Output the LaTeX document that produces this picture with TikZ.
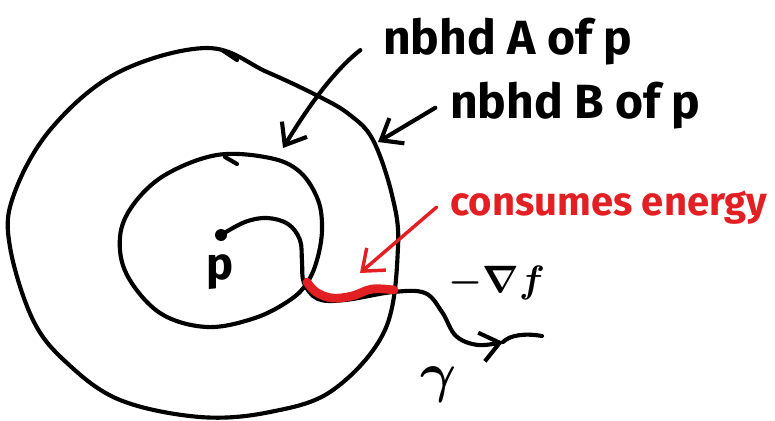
\documentclass[tikz,border=0pt]{standalone}
\usepackage{fontspec}
\setmainfont{Fira Sans}
\usetikzlibrary{arrows.meta}
\definecolor{mred}{RGB}{226,32,36}
\begin{document}
\begin{tikzpicture}[x=0.75pt,y=-0.75pt, line cap=round, line join=round,
  ink/.style={line width=3.1pt, draw=black},
  redink/.style={line width=2.6pt, draw=mred},
  barb/.style={-{Straight Barb[length=14pt,width=22pt]}},
  lab/.style={font=\fontsize{36}{40}\selectfont\bfseries, inner sep=0pt, anchor=base west},
  redlab/.style={font=\fontsize{30}{34}\selectfont\bfseries, text=mred, inner sep=0pt, anchor=base west},
  mathlab/.style={inner sep=0pt, font=\fontsize{20}{24}\selectfont\boldmath}]
\useasboundingbox (0,0) rectangle (775,421);
% outer neighbourhood B
\draw[ink] plot[smooth cycle, tension=0.6] coordinates {(207,48) (267,72) (320,97) (350,115) (373,140) (392,195) (398,247) (385,330) (333,390) (270,412) (200,417) (120,400) (67,363) (33,320) (10,247) (13,197) (50,130) (117,73)};
\draw[ink] (222,50) -- (237,60);
% inner neighbourhood A
\draw[ink] plot[smooth cycle, tension=0.6] coordinates {(217,155) (270,158) (300,172) (318,200) (322,230) (317,260) (307,283) (290,300) (255,318) (207,327) (160,313) (127,275) (120,237) (133,205) (165,175)};
\draw[ink] (225,157) -- (237,164);
% point p
\node[circle, fill=black, inner sep=0pt, minimum size=9pt] (pdot) at (221,235) {};
\node[inner sep=0pt, font=\fontsize{34}{38}\selectfont\bfseries] (plab) at (220,272) {p};
% curve gamma
\coordinate (gtip) at (503,342);
\draw[ink, barb] plot[smooth, tension=0.6] coordinates {(pdot.center) (245,222) (267,218) (288,224) (300,240) (302,262) (304,283) (318,299) (345,300) (393,292) (425,293) (442,312) (456,336) (478,345) (gtip)};
\coordinate (gend) at (542,336);
\draw[ink] (gtip) .. controls (510,335) and (525,333) .. (gend);
% red energy segment
\draw[mred, line width=6.5pt] plot[smooth, tension=0.6] coordinates {(307,282) (316,292) (332,298) (352,296) (372,289) (394,290)};
% labels
\node[lab] (labA) at (383,55) {nbhd A of p};
\node[lab] (labB) at (450,118) {nbhd B of p};
\node[redlab] (labC) at (450,215) {consumes energy};
\node[mathlab, anchor=base west, scale=1.38] (grad) at (448,292) {$-\nabla f$};
\node[mathlab, scale=2.0] (gam) at (439,385) {$\gamma$};
% arrows
\coordinate (tipA) at (283,148);
\coordinate (tipB) at (378,142);
\coordinate (tipC) at (360,273);
\draw[ink, barb] ([xshift=-17pt,yshift=-6pt]labA.west) .. controls (332,72) and (305,112) .. (tipA);
\draw[ink, barb] ([xshift=-11pt,yshift=-2pt]labB.west) -- (tipB);
\draw[redink, barb] ([xshift=-10pt,yshift=0pt]labC.west) -- (tipC);
\end{tikzpicture}
\end{document}
